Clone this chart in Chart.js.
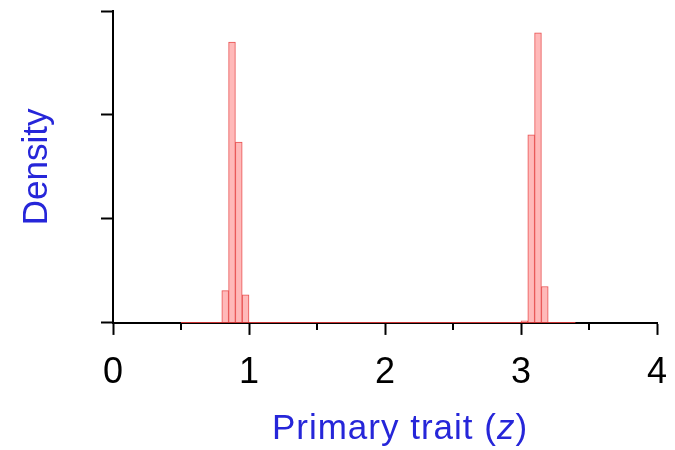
<!DOCTYPE html>
<html>
<head>
<meta charset="utf-8">
<script src="https://cdn.jsdelivr.net/npm/chart.js@4/dist/chart.umd.min.js"></script>
<style>
  html, body { margin: 0; padding: 0; background: #fff; }
  #wrap { width: 675px; height: 450px; }
</style>
</head>
<body>
<div id="wrap"><canvas id="myChart" width="675" height="450"></canvas></div>
<script>
// histogram bins (centres), bin width 0.05
const binCenters = [0.825, 0.875, 0.925, 0.975, 3.025, 3.075, 3.125, 3.175];
const density = [0.31, 2.70, 1.74, 0.27, 0.02, 1.81, 2.79, 0.35];
// empty bins run along the baseline over this range
const histRange = [0.5, 3.4];
const xTicks = [0, 1, 2, 3, 4];
const xMinorTicks = [0.5, 1.5, 2.5, 3.5];

const font = "'Liberation Sans', Arial, Helvetica, sans-serif";
const blue = "#2626d9";

const barData = binCenters.map((x, i) => ({ x: x, y: density[i] }));
const baseData = histRange.map(x => ({ x: x, y: 0 }));

// minor ticks on x axis and the italic x title
const extras = {
  id: "extras",
  afterDraw(chart) {
    const ctx = chart.ctx;
    const xs = chart.scales.x;
    const y0 = chart.chartArea.bottom;
    ctx.save();
    ctx.strokeStyle = "#000";
    ctx.lineWidth = 2;
    xMinorTicks.forEach(v => {
      const px = Math.round(xs.getPixelForValue(v));
      ctx.beginPath();
      ctx.moveTo(px, y0);
      ctx.lineTo(px, y0 + 7);
      ctx.stroke();
    });

    const parts = [
      { t: "Primary trait (", f: "35px " + font },
      { t: "z", f: "italic 35px " + font },
      { t: ")", f: "35px " + font },
    ];
    ctx.letterSpacing = "1px";
    let total = 0;
    parts.forEach(p => { ctx.font = p.f; p.w = ctx.measureText(p.t).width; total += p.w; });
    let x = (chart.chartArea.left + chart.chartArea.right) / 2 + 15 - total / 2;
    ctx.fillStyle = blue;
    ctx.textBaseline = "alphabetic";
    ctx.textAlign = "left";
    parts.forEach(p => { ctx.font = p.f; ctx.fillText(p.t, x, 439); x += p.w; });
    ctx.restore();
  }
};

const data = {
  datasets: [
    {
      type: "line",
      data: baseData,
      borderColor: "rgb(200, 50, 50)",
      borderWidth: 2,
      pointRadius: 0,
      order: 0,
    },
    {
      type: "bar",
      data: barData,
      backgroundColor: "rgba(255, 185, 185, 1)",
      borderColor: "rgb(232, 80, 80)",
      borderWidth: 1,
      categoryPercentage: 1.0,
      barPercentage: 1.0,
      order: 1,
    },
  ],
};

const config = {
  type: "bar",
  data: data,
  plugins: [extras],
  options: {
    responsive: false,
    animation: false,
    layout: {
      padding: { left: 16, right: 18, top: 11, bottom: 38 }
    },
    plugins: {
      legend: { display: false },
      tooltip: { enabled: false },
    },
    scales: {
      x: {
        type: "linear",
        min: 0,
        max: 4,
        offset: false,
        afterBuildTicks: axis => { axis.ticks = xTicks.map(v => ({ value: v })); },
        ticks: {
          color: "#000",
          font: { family: font, size: 36, lineHeight: 2.03 },
          padding: 2,
          maxRotation: 0,
        },
        grid: {
          offset: false,
          drawOnChartArea: false,
          tickLength: 12,
          tickWidth: 2,
          tickColor: "#000",
        },
        border: { color: "#000", width: 2 },
      },
      y: {
        min: 0,
        max: 3,
        ticks: { display: false, stepSize: 1 },
        grid: {
          drawOnChartArea: false,
          tickLength: 12,
          tickWidth: 2,
          tickColor: "#000",
        },
        border: { color: "#000", width: 2 },
        title: {
          display: true,
          text: "Density",
          color: blue,
          font: { family: font, size: 35 },
          padding: { top: 0, bottom: 43 },
        },
      },
    },
  },
};

window.onload = function () {
  const ctx = document.getElementById("myChart");
  new Chart(ctx, config);
};
</script>
</body>
</html>
